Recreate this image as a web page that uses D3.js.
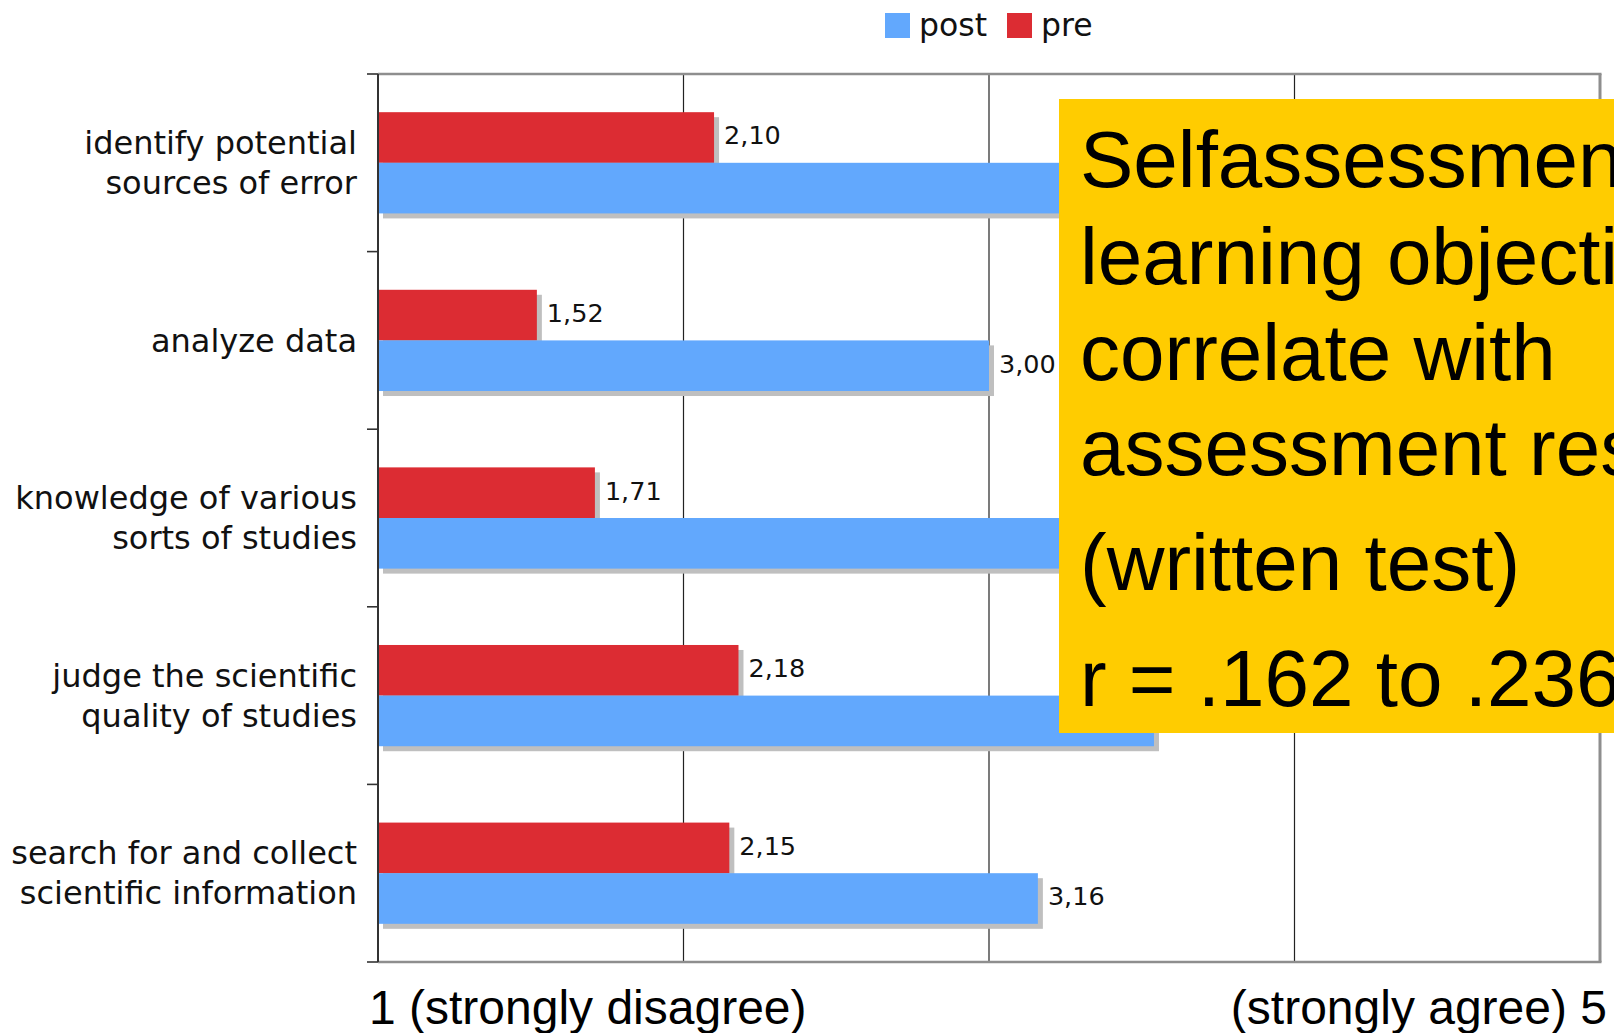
<!DOCTYPE html>
<html>
<head>
<meta charset="utf-8">
<script src="https://cdn.jsdelivr.net/npm/d3@7"></script>
<style>
  html, body { margin: 0; padding: 0; background: #fff; }
  svg { display: block; }
</style>
</head>
<body>
<script>
// ---- data ----
const categories = [
  ["identify potential", "sources of error"],
  ["analyze data"],
  ["knowledge of various", "sorts of studies"],
  ["judge the scientific", "quality of studies"],
  ["search for and collect", "scientific information"]
];
const seriesNames = ["pre", "post"];
const preValues  = [2.10, 1.52, 1.71, 2.18, 2.15];
const postValues = [3.45, 3.00, 3.35, 3.54, 3.16];
const xTicks = [1, 2, 3, 4, 5];
const legendItems = ["post", "pre"];
const axisEndLabels = ["1 (strongly disagree)", "(strongly agree) 5"];
const noteLines = ["Selfassessment of", "learning objectives", "correlate with", "assessment results", "(written test)", "r = .162 to .236"];

const colors = { post: "#62a8fd", pre: "#dc2c33" };

// ---- layout ----
const W = 1614, H = 1033;
const plot = { left: 378, right: 1600, top: 74, bottom: 962 };
const box = { x: 1059, y: 99, h: 634 };

const svg = d3.select("body").append("svg").attr("width", W).attr("height", H);

const x = d3.scaleLinear().domain([1, 5]).range([plot.left, plot.right]);
const keys = categories.map((c, i) => i);
const y = d3.scaleBand().domain(keys).range([plot.top, plot.bottom])
  .paddingInner(0.43).paddingOuter(0.215);
const ySub = d3.scaleBand().domain(seriesNames).range([0, y.bandwidth()]);

const rows = keys.map(i => ({ i, pre: preValues[i], post: postValues[i] }));

// gridlines
svg.append("g").selectAll("line").data(xTicks.slice(1, -1)).join("line")
  .attr("x1", d => x(d)).attr("x2", d => x(d))
  .attr("y1", plot.top).attr("y2", plot.bottom)
  .attr("stroke", "#222").attr("stroke-width", 1.2);

// bars data flattened
const bars = [];
rows.forEach(r => seriesNames.forEach(s => bars.push({ i: r.i, s, v: r[s] })));

// shadows
svg.append("g").selectAll("rect").data(bars).join("rect")
  .attr("x", x(1) + 5)
  .attr("y", d => y(d.i) + ySub(d.s) + 5)
  .attr("width", d => x(d.v) - x(1))
  .attr("height", ySub.bandwidth())
  .attr("fill", "#bfbfbf");

// bars
svg.append("g").selectAll("rect").data(bars).join("rect")
  .attr("x", x(1))
  .attr("y", d => y(d.i) + ySub(d.s))
  .attr("width", d => x(d.v) - x(1))
  .attr("height", ySub.bandwidth())
  .attr("fill", d => colors[d.s]);

// value labels (those hidden behind the note box are not drawn)
const yInBox = yy => yy > box.y && yy < box.y + box.h;
svg.append("g").selectAll("text")
  .data(bars.filter(d => !(x(d.v) + 10 > box.x && yInBox(y(d.i) + ySub(d.s) + ySub.bandwidth() / 2))))
  .join("text")
  .attr("x", d => x(d.v) + 10)
  .attr("y", d => y(d.i) + ySub(d.s) + ySub.bandwidth() / 2)
  .attr("dy", "0.27em")
  .attr("font-family", "DejaVu Sans, Verdana, sans-serif")
  .attr("font-size", 25.5)
  .attr("fill", "#111")
  .text(d => d3.format(".2f")(d.v).replace(".", ","));

// frame: top, right, bottom (gray)
const frame = svg.append("g").attr("fill", "none").attr("stroke", "#8e8e8e");
frame.append("line").attr("x1", plot.left).attr("x2", plot.right + 1.5)
  .attr("y1", plot.top).attr("y2", plot.top).attr("stroke-width", 2.5);
frame.append("line").attr("x1", plot.right).attr("x2", plot.right)
  .attr("y1", plot.top).attr("y2", plot.bottom).attr("stroke-width", 3);
frame.append("line").attr("x1", plot.left).attr("x2", plot.right + 1.5)
  .attr("y1", plot.bottom).attr("y2", plot.bottom).attr("stroke-width", 2.5);

// left axis with ticks at band boundaries
const boundaries = d3.range(keys.length + 1).map(k => y.range()[0] + k * y.step());
const la = svg.append("g").attr("stroke", "#333");
la.append("line").attr("x1", plot.left).attr("x2", plot.left)
  .attr("y1", plot.top).attr("y2", plot.bottom).attr("stroke-width", 2);
la.selectAll("line.tick").data(boundaries).join("line").attr("class", "tick")
  .attr("x1", plot.left - 11).attr("x2", plot.left)
  .attr("y1", d => d).attr("y2", d => d).attr("stroke-width", 1.6);

// category labels
const catG = svg.append("g")
  .attr("font-family", "DejaVu Sans, Verdana, sans-serif")
  .attr("font-size", 32).attr("fill", "#111").attr("text-anchor", "end");
categories.forEach((lines, i) => {
  const cy = y(i) + y.bandwidth() / 2;
  const n = lines.length;
  lines.forEach((t, j) => {
    catG.append("text")
      .attr("x", 357)
      .attr("y", cy + (j - (n - 1) / 2) * 40)
      .attr("dy", "0.35em")
      .text(t);
  });
});

// legend
const legX = { post: 885, pre: 1007 };
const lg = svg.append("g").attr("font-family", "DejaVu Sans, Verdana, sans-serif")
  .attr("font-size", 31.5).attr("fill", "#111");
legendItems.forEach(s => {
  lg.append("rect").attr("x", legX[s]).attr("y", 13).attr("width", 25).attr("height", 25)
    .attr("fill", colors[s]);
  lg.append("text").attr("x", legX[s] + 34).attr("y", 36).text(s);
});

// axis end labels
const ax = svg.append("g").attr("font-family", "Liberation Sans, Arial, sans-serif")
  .attr("font-size", 48).attr("fill", "#000");
ax.append("text").attr("x", 369).attr("y", 1024).text(axisEndLabels[0]);
ax.append("text").attr("x", 1607).attr("y", 1024).attr("text-anchor", "end").text(axisEndLabels[1]);

// yellow note box
svg.append("rect").attr("x", box.x).attr("y", box.y).attr("width", W - box.x).attr("height", box.h)
  .attr("fill", "#ffcc00");
const noteBase = [187, 284, 380, 475, 590, 706];
const nt = svg.append("g").attr("font-family", "Liberation Sans, Arial, sans-serif")
  .attr("font-size", 80).attr("fill", "#000");
noteLines.forEach((t, k) => {
  nt.append("text").attr("x", 1080).attr("y", noteBase[k]).text(t);
});
</script>
</body>
</html>
